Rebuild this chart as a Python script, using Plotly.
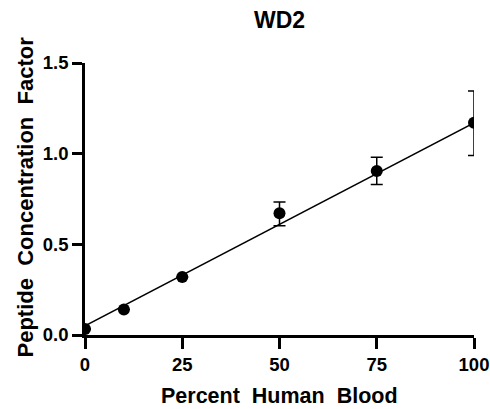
import plotly.graph_objects as go

percent_blood = [0, 10, 25, 50, 75, 100]
conc_factor = [0.033, 0.14, 0.32, 0.671, 0.905, 1.17]
err_plus = [0.0, 0.0, 0.0, 0.062, 0.075, 0.175]
err_minus = [0.0, 0.0, 0.0, 0.068, 0.075, 0.18]

fit_x = [0, 100]
fit_intercept = 0.05
fit_slope = 0.0112
fit_y = [fit_intercept + fit_slope * x for x in fit_x]

x_ticks = [0, 25, 50, 75, 100]
y_ticks = [0.0, 0.5, 1.0, 1.5]

W, H = 490, 409
L, R, T, B = 85, 16, 63, 74
pw, ph = W - L - R, H - T - B

def px_to_xpaper(px):
    return (px - L) / pw

def px_to_ypaper(py):
    return (H - B - py) / ph

fig = go.Figure()
fig.add_trace(go.Scatter(
    x=fit_x, y=fit_y, mode="lines",
    line=dict(color="black", width=1.5), showlegend=False, hoverinfo="skip"))
fig.add_trace(go.Scatter(
    x=percent_blood, y=conc_factor, mode="markers",
    marker=dict(color="black", size=12),
    error_y=dict(type="data", symmetric=False, array=err_plus, arrayminus=err_minus,
                 color="black", thickness=1.5, width=6),
    showlegend=False, cliponaxis=True))

font = "Arial, Liberation Sans, sans-serif"
fig.update_layout(
    width=W, height=H,
    margin=dict(l=L, r=R, t=T, b=B, autoexpand=False),
    paper_bgcolor="white", plot_bgcolor="white",
    font=dict(family=font, color="black"),
    annotations=[
        dict(text="<b>WD2</b>", xref="paper", yref="paper",
             x=px_to_xpaper(279.5), y=px_to_ypaper(19.5),
             xanchor="center", yanchor="middle", showarrow=False,
             font=dict(family=font, size=23, color="black")),
        dict(text="<b>Percent  Human  Blood</b>", xref="paper", yref="paper",
             x=px_to_xpaper(279), y=px_to_ypaper(395.5),
             xanchor="center", yanchor="middle", showarrow=False,
             font=dict(family=font, size=21.5, color="black")),
        dict(text="<b>Peptide  Concentration  Factor</b>", xref="paper", yref="paper",
             x=px_to_xpaper(24.5), y=px_to_ypaper(197), textangle=-90,
             xanchor="center", yanchor="middle", showarrow=False,
             font=dict(family=font, size=22, color="black")),
    ],
)
fig.update_xaxes(
    range=[0, 100], tickvals=x_ticks, ticktext=[f"<b>{v}</b>" for v in x_ticks],
    showline=True, linecolor="black", linewidth=2.5, showgrid=False, zeroline=False,
    ticks="outside", ticklen=11, tickwidth=2.5, tickcolor="black", automargin=False,
    tickfont=dict(family=font, size=18.5, color="black"))
fig.update_yaxes(
    range=[0, 1.5], tickvals=y_ticks, ticktext=[f"<b>{v:.1f}</b>" for v in y_ticks],
    showline=True, linecolor="black", linewidth=2.5, showgrid=False, zeroline=False,
    ticks="outside", ticklen=10, tickwidth=2.5, tickcolor="black", automargin=False,
    tickfont=dict(family=font, size=18.5, color="black"))

fig.write_html("out.html")
